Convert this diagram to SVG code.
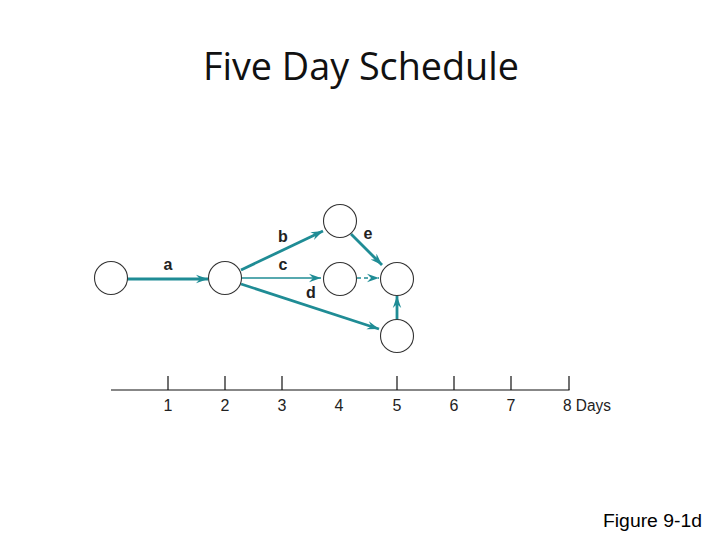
<svg xmlns="http://www.w3.org/2000/svg" width="720" height="540" viewBox="0 0 720 540">
<style>
.node{fill:#fff;stroke:#333;stroke-width:1.1}
.thick{stroke:#1f8c95;stroke-width:2.8;fill:none}
.thin{stroke:#1f8c95;stroke-width:1.4;fill:none}
.dash{stroke:#1f8c95;stroke-width:1.4;fill:none;stroke-dasharray:4 3}
.lbl{font-family:"Liberation Sans",Arial,sans-serif;font-weight:bold;font-size:16px;fill:#222;text-anchor:middle}
.ax{font-family:"Liberation Sans",Arial,sans-serif;font-size:16px;fill:#222;text-anchor:middle}
.axis{stroke:#111;stroke-width:1.2}
</style>
<defs>
<marker id="ah" markerUnits="userSpaceOnUse" markerWidth="14" markerHeight="10" refX="12" refY="5" orient="auto">
<path d="M0,0.8 L12,5 L0,9.2 L4,5 z" fill="#1f8c95"/>
</marker>
</defs>
<rect width="720" height="540" fill="#fff"/>
<text x="203" y="80" font-family="'Open Sans','Noto Sans',sans-serif" font-size="38" fill="#111" textLength="316" lengthAdjust="spacingAndGlyphs">Five Day Schedule</text>

<g id="connectors">
<line class="thick" x1="127" y1="279" x2="208" y2="279" marker-end="url(#ah)"/>
<line class="thick" x1="241" y1="270" x2="323" y2="231" marker-end="url(#ah)"/>
<line class="thin" x1="242" y1="278" x2="321" y2="278" marker-end="url(#ah)"/>
<line class="thick" x1="241" y1="284" x2="379" y2="329" marker-end="url(#ah)"/>
<line class="thick" x1="351" y1="234" x2="382" y2="265" marker-end="url(#ah)"/>
<line class="dash" x1="357" y1="278" x2="379" y2="278" marker-end="url(#ah)"/>
<line class="thick" x1="397" y1="320" x2="397" y2="296" marker-end="url(#ah)"/>
</g>

<g id="n1"><circle class="node" cx="111" cy="278" r="16.5"/></g>
<g id="n2"><circle class="node" cx="225" cy="278" r="16.5"/></g>
<g id="n3"><circle class="node" cx="340" cy="221" r="16.5"/></g>
<g id="n4"><circle class="node" cx="340" cy="279" r="16.5"/></g>
<g id="n5"><circle class="node" cx="397" cy="279" r="16.5"/></g>
<g id="n6"><circle class="node" cx="397" cy="336" r="16.5"/></g>

<g id="labels">
<text class="lbl" x="168" y="270">a</text>
<text class="lbl" x="283" y="242">b</text>
<text class="lbl" x="283" y="270">c</text>
<text class="lbl" x="311" y="298">d</text>
<text class="lbl" x="368" y="239">e</text>
</g>

<g id="axis">
<line class="axis" x1="111" y1="390" x2="569.5" y2="390"/>
<line class="axis" x1="168" y1="376" x2="168" y2="390"/>
<line class="axis" x1="225" y1="376" x2="225" y2="390"/>
<line class="axis" x1="282" y1="376" x2="282" y2="390"/>
<line class="axis" x1="397" y1="376" x2="397" y2="390"/>
<line class="axis" x1="454" y1="376" x2="454" y2="390"/>
<line class="axis" x1="511" y1="376" x2="511" y2="390"/>
<line class="axis" x1="569" y1="376" x2="569" y2="390"/>
<text class="ax" x="168" y="411">1</text>
<text class="ax" x="225" y="411">2</text>
<text class="ax" x="282" y="411">3</text>
<text class="ax" x="339" y="411">4</text>
<text class="ax" x="397" y="411">5</text>
<text class="ax" x="454" y="411">6</text>
<text class="ax" x="511" y="411">7</text>
<text class="ax" x="563" y="411" text-anchor="start" style="text-anchor:start" textLength="48" lengthAdjust="spacingAndGlyphs">8 Days</text>
</g>

<text x="603" y="527" font-family="'Liberation Sans',Arial,sans-serif" font-size="18" fill="#000" textLength="99" lengthAdjust="spacingAndGlyphs">Figure 9-1d</text>
</svg>
